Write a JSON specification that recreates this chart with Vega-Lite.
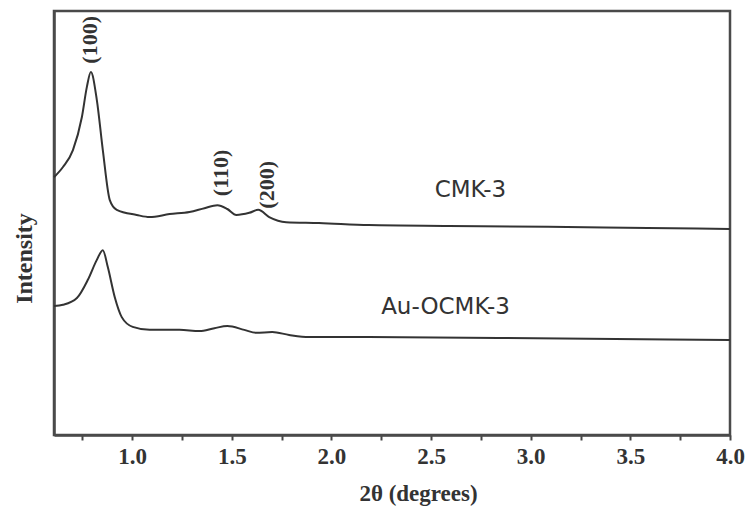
{
  "$schema": "https://vega.github.io/schema/vega-lite/v6.json",
  "width": 676,
  "height": 424,
  "autosize": {"type": "none"},
  "padding": {"left": 54, "top": 11, "right": 22, "bottom": 78},
  "background": "white",
  "config": {
    "view": {"stroke": "#4a4a4a", "strokeWidth": 2.5},
    "axis": {"grid": false}
  },
  "datasets": {
    "curves": [
      {"series": "CMK-3", "theta": 0.6075, "intensity": 60.8},
      {"series": "CMK-3", "theta": 0.6525, "intensity": 63.2},
      {"series": "CMK-3", "theta": 0.7025, "intensity": 67.2},
      {"series": "CMK-3", "theta": 0.7475, "intensity": 75.0},
      {"series": "CMK-3", "theta": 0.7725, "intensity": 82.1},
      {"series": "CMK-3", "theta": 0.7925, "intensity": 85.6},
      {"series": "CMK-3", "theta": 0.8225, "intensity": 79.0},
      {"series": "CMK-3", "theta": 0.8525, "intensity": 67.2},
      {"series": "CMK-3", "theta": 0.8875, "intensity": 55.4},
      {"series": "CMK-3", "theta": 0.9225, "intensity": 53.1},
      {"series": "CMK-3", "theta": 1.0225, "intensity": 51.9},
      {"series": "CMK-3", "theta": 1.0875, "intensity": 51.4},
      {"series": "CMK-3", "theta": 1.1875, "intensity": 52.1},
      {"series": "CMK-3", "theta": 1.2875, "intensity": 52.6},
      {"series": "CMK-3", "theta": 1.3625, "intensity": 53.5},
      {"series": "CMK-3", "theta": 1.4275, "intensity": 54.2},
      {"series": "CMK-3", "theta": 1.4775, "intensity": 53.3},
      {"series": "CMK-3", "theta": 1.5225, "intensity": 51.9},
      {"series": "CMK-3", "theta": 1.5875, "intensity": 52.4},
      {"series": "CMK-3", "theta": 1.6325, "intensity": 53.1},
      {"series": "CMK-3", "theta": 1.6875, "intensity": 51.4},
      {"series": "CMK-3", "theta": 1.7725, "intensity": 50.2},
      {"series": "CMK-3", "theta": 1.9375, "intensity": 50.0},
      {"series": "CMK-3", "theta": 2.1875, "intensity": 49.5},
      {"series": "CMK-3", "theta": 2.5875, "intensity": 49.3},
      {"series": "CMK-3", "theta": 3.0875, "intensity": 49.1},
      {"series": "CMK-3", "theta": 3.5875, "intensity": 48.8},
      {"series": "CMK-3", "theta": 4.0, "intensity": 48.6},
      {"series": "Au-OCMK-3", "theta": 0.6075, "intensity": 30.4},
      {"series": "Au-OCMK-3", "theta": 0.6525, "intensity": 30.7},
      {"series": "Au-OCMK-3", "theta": 0.7225, "intensity": 32.3},
      {"series": "Au-OCMK-3", "theta": 0.7775, "intensity": 36.6},
      {"series": "Au-OCMK-3", "theta": 0.8225, "intensity": 41.3},
      {"series": "Au-OCMK-3", "theta": 0.8525, "intensity": 43.6},
      {"series": "Au-OCMK-3", "theta": 0.8775, "intensity": 39.6},
      {"series": "Au-OCMK-3", "theta": 0.9125, "intensity": 32.5},
      {"series": "Au-OCMK-3", "theta": 0.9475, "intensity": 27.8},
      {"series": "Au-OCMK-3", "theta": 1.0025, "intensity": 25.5},
      {"series": "Au-OCMK-3", "theta": 1.0875, "intensity": 24.8},
      {"series": "Au-OCMK-3", "theta": 1.2375, "intensity": 24.8},
      {"series": "Au-OCMK-3", "theta": 1.3375, "intensity": 24.5},
      {"series": "Au-OCMK-3", "theta": 1.4125, "intensity": 25.2},
      {"series": "Au-OCMK-3", "theta": 1.4775, "intensity": 25.7},
      {"series": "Au-OCMK-3", "theta": 1.5625, "intensity": 24.8},
      {"series": "Au-OCMK-3", "theta": 1.6225, "intensity": 24.1},
      {"series": "Au-OCMK-3", "theta": 1.7025, "intensity": 24.3},
      {"series": "Au-OCMK-3", "theta": 1.7875, "intensity": 23.6},
      {"series": "Au-OCMK-3", "theta": 1.8875, "intensity": 23.1},
      {"series": "Au-OCMK-3", "theta": 2.1875, "intensity": 23.1},
      {"series": "Au-OCMK-3", "theta": 2.8375, "intensity": 22.9},
      {"series": "Au-OCMK-3", "theta": 4.0, "intensity": 22.4}
    ],
    "peaks": [
      {"theta": 0.7875, "intensity": 93.2, "label": "(100)"},
      {"theta": 1.4475, "intensity": 61.8, "label": "(110)"},
      {"theta": 1.6775, "intensity": 59.0, "label": "(200)"}
    ],
    "names": [
      {"theta": 2.6975, "intensity": 57.8, "label": "CMK-3"},
      {"theta": 2.5725, "intensity": 30.2, "label": "Au-OCMK-3"}
    ]
  },
  "layer": [
    {
      "data": {"name": "curves"},
      "mark": {"type": "line", "interpolate": "monotone", "color": "#333333", "strokeWidth": 2},
      "encoding": {
        "x": {
          "field": "theta", "type": "quantitative",
          "scale": {"domain": [0.6075, 4.0], "nice": false, "zero": false},
          "axis": {
            "title": "2θ  (degrees)",
            "values": [0.75, 1.0, 1.25, 1.5, 1.75, 2.0, 2.25, 2.5, 2.75, 3.0, 3.25, 3.5, 3.75, 4.0],
            "labelExpr": "abs(datum.value * 2 - round(datum.value * 2)) < 0.001 ? format(datum.value, '.1f') : ''",
            "ticks": true,
            "tickSize": 5,
            "tickColor": "#444444",
            "tickWidth": 2,
            "domainColor": "#4a4a4a",
            "domainWidth": 2.5,
            "labelFont": "Liberation Serif",
            "labelFontSize": 23,
            "labelFontWeight": "bold",
            "labelColor": "#333333",
            "labelPadding": 5,
            "labelFlush": false,
            "labelOverlap": false,
            "titleFont": "Liberation Serif",
            "titleFontSize": 23,
            "titleFontWeight": "bold",
            "titleColor": "#333333",
            "titleX": 364,
            "titleY": 58,
            "titleBaseline": "middle"
          }
        },
        "y": {
          "field": "intensity", "type": "quantitative",
          "scale": {"domain": [0, 100], "nice": false},
          "axis": {
            "title": "Intensity",
            "labels": false,
            "ticks": false,
            "domainColor": "#4a4a4a",
            "domainWidth": 2.5,
            "titleFont": "Liberation Serif",
            "titleFontSize": 24,
            "titleFontWeight": "bold",
            "titleColor": "#333333",
            "titleX": -30,
            "titleY": 247,
            "titleAngle": -90,
            "titleBaseline": "middle",
            "titleAlign": "center"
          }
        },
        "detail": {"field": "series", "type": "nominal"}
      }
    },
    {
      "data": {"name": "peaks"},
      "mark": {"type": "text", "angle": -90, "font": "Liberation Serif", "fontSize": 22, "fontWeight": "bold", "color": "#333333", "align": "center", "baseline": "middle"},
      "encoding": {
        "x": {"field": "theta", "type": "quantitative"},
        "y": {"field": "intensity", "type": "quantitative"},
        "text": {"field": "label"}
      }
    },
    {
      "data": {"name": "names"},
      "mark": {"type": "text", "font": "DejaVu Sans", "fontSize": 23, "color": "#333333", "align": "center", "baseline": "middle"},
      "encoding": {
        "x": {"field": "theta", "type": "quantitative"},
        "y": {"field": "intensity", "type": "quantitative"},
        "text": {"field": "label"}
      }
    }
  ]
}
